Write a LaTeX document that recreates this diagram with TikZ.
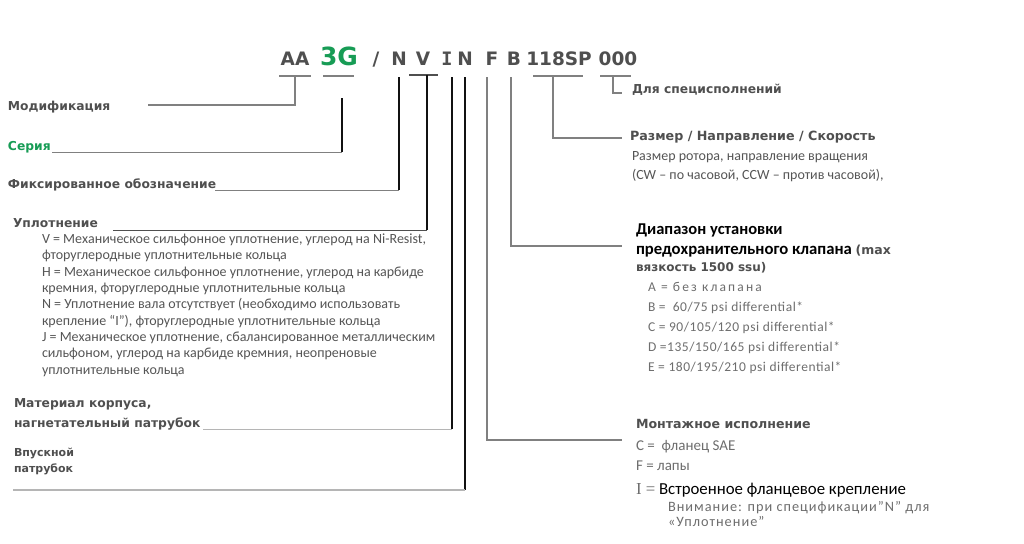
\documentclass[tikz,border=0pt]{standalone}
\usepackage{fontspec}
\usetikzlibrary{calc}
\setmainfont{Carlito}
\newfontfamily\hd{DejaVu Sans}
\newfontfamily\hdm{DejaVu Sans Mono}
\newfontfamily\cam{Liberation Serif}
\definecolor{hdgrey}{HTML}{4F4F4F}
\definecolor{txgrey}{HTML}{555555}
\definecolor{ltgrey}{HTML}{6E6E6E}
\definecolor{grn}{HTML}{179C55}
\definecolor{lnblack}{HTML}{111111}
\definecolor{lngrey}{HTML}{808080}
\definecolor{lnlight}{HTML}{B5B5B5}
\begin{document}
\begin{tikzpicture}[x=1pt,y=-1pt,
  every node/.style={inner sep=0pt,outer sep=0pt},
  code/.style={font=\hd\bfseries\fontsize{18.5}{19}\selectfont,text=hdgrey,anchor=base},
  head/.style={font=\hd\bfseries\fontsize{12.3}{12}\selectfont,text=hdgrey,anchor=base west},
  body/.style={font=\fontsize{14}{16.3}\selectfont,text=txgrey,anchor=north west,align=left},
  bk/.style={draw=lnblack,line width=1.3pt},
  gy/.style={draw=lngrey,line width=1.5pt},
  lt/.style={draw=lnlight,line width=1.3pt},
  lt2/.style={draw=lnlight,line width=2pt}]
\useasboundingbox[fill=white] (0,0) rectangle (1024,543);

% ---- code line ----
\node[code] (cAA) at (295,66) {AA};
\node[code,text=grn,font=\hd\bfseries\fontsize{25}{26}\selectfont] (c3G) at (339,66) {3G};
\node[code] (cSl) at (376,66) {/};
\node[code] (cN1) at (399,66) {N};
\node[code] (cV) at (423,66) {V};
\node[code,font=\hdm\bfseries\fontsize{18.5}{19}\selectfont] (cI) at (447,66) {I};
\node[code] (cN2) at (465,66) {N};
\node[code] (cF) at (492,66) {F};
\node[code] (cB) at (514,66) {B};
\node[code] (cSP) at (559,66) {118SP};
\node[code] (c000) at (618,66) {000};

% ---- left headings ----
\node[head] (mod) at (8,110) {Модификация};
\node[head,text=grn] (ser) at (8,150) {Серия};
\node[head] (fix) at (8,188) {Фиксированное обозначение};
\node[head] (upl) at (13,227) {Уплотнение};
\node[body] (uplT) at (42,234) {V = Механическое сильфонное уплотнение, углерод на Ni-Resist,\\
фторуглеродные уплотнительные кольца\\
H = Механическое сильфонное уплотнение, углерод на карбиде\\
кремния, фторуглеродные уплотнительные кольца\\
N = Уплотнение вала отсутствует (необходимо использовать\\
крепление “I”), фторуглеродные уплотнительные кольца\\
J = Механическое уплотнение, сбалансированное металлическим\\
сильфоном, углерод на карбиде кремния, неопреновые\\
уплотнительные кольца};
\node[head] (mat1) at (14,407) {Материал корпуса,};
\node[head] (mat) at (14,427) {нагнетательный патрубок};
\node[head,font=\hd\bfseries\fontsize{11}{11}\selectfont] (vp1) at (14,456) {Впускной};
\node[head,font=\hd\bfseries\fontsize{11}{11}\selectfont] (vp) at (14,472) {патрубок};

% ---- right headings ----
\node[head] (spec) at (632,93) {Для специсполнений};
\node[head,font=\hd\bfseries\fontsize{12.7}{12.7}\selectfont] (size) at (630,140) {Размер / Направление / Скорость};
\node[body,font=\fontsize{14}{18.5}\selectfont] (sizeT) at (632,152) {Размер ротора, направление вращения\\(CW – по часовой, CCW – против часовой),};
\node[anchor=base west,font=\bfseries\fontsize{16.5}{17}\selectfont,text=black] (dia1) at (636,234) {Диапазон установки};
\node[anchor=base west,font=\bfseries\fontsize{16.7}{17}\selectfont,text=black] (dia) at (636,254) {предохранительного клапана \textcolor{hdgrey}{\hd\fontsize{12.5}{12.5}\selectfont(max}};
\node[head,font=\hd\bfseries\fontsize{12}{12}\selectfont] (dia3) at (636,271) {вязкость 1500 ssu)};
\node[body,font=\addfontfeatures{LetterSpace=4}\fontsize{13.5}{20}\selectfont,text=ltgrey] (diaT) at (648,282) {\addfontfeatures{LetterSpace=16}A = без клапана\\
B =\ \ 60/75 psi differential*\\
C\ = 90/105/120 psi differential*\\
D =135/150/165 psi differential*\\
E = 180/195/210 psi differential*};
\node[head,font=\hd\bfseries\fontsize{12.6}{12}\selectfont] (mont) at (636,428) {Монтажное исполнение};
\node[anchor=base west,font=\fontsize{15}{15}\selectfont,text=ltgrey] (mC) at (636,450) {C =\ \ фланец SAE};
\node[anchor=base west,font=\fontsize{15}{15}\selectfont,text=ltgrey] (mF) at (636,470) {F = лапы};
\node[anchor=base west,font=\fontsize{16.8}{16.8}\selectfont,text=black] (mI) at (636,494) {\textcolor{ltgrey}{\cam I =} Встроенное фланцевое крепление};
\node[body,font=\addfontfeatures{LetterSpace=7}\fontsize{14.3}{15.5}\selectfont,text=ltgrey] (note) at (668,501) {Внимание: при спецификации"N" для\\«Уплотнение"};

% ---- coordinates ----
\coordinate (uAAa) at (279,76); \coordinate (uAAb) at (311,76);
\coordinate (u3Ga) at (323,76); \coordinate (u3Gb) at (354,76);
\coordinate (uVa) at (409,75);  \coordinate (uVb) at (438,75);
\coordinate (uSPa) at (533,76); \coordinate (uSPb) at (583,76);
\coordinate (u0a) at (600,76);  \coordinate (u0b) at (631,76);
\coordinate (eMod) at (148,105);
\coordinate (eSer) at (52,152);
\coordinate (eFix) at (215,190);
\coordinate (eUpl) at (113,230);
\coordinate (eMat) at (203,429);
\coordinate (eVp) at (13,490);
\coordinate (eMont) at (622,440);
\coordinate (eDia) at (622,246);
\coordinate (eSize) at (622,138);
\coordinate (eSpec) at (622,93);

% ---- underlines ----
\draw[gy,line width=1.2pt] (uAAa) -- (uAAb);
\draw[gy,line width=1.2pt] (u3Ga) -- (u3Gb);
\draw[gy,line width=1.2pt,draw=hdgrey] (uVa) -- (uVb);
\draw[gy,line width=1.2pt] (uSPa) -- (uSPb);
\draw[gy,line width=1.2pt] (u0a) -- (u0b);

% ---- connectors ----
\draw[gy,line width=1.2pt] ($(uAAa)!0.5!(uAAb)$) |- (eMod);
\draw[bk] (342,98) coordinate (t3G) -- (342,152) coordinate (b3G);
\draw[gy,line width=1pt] (b3G) -- (eSer);
\draw[bk] (399,77) coordinate (tN1) -- (tN1 |- eFix) coordinate (bN1);
\draw[gy,line width=1pt] (bN1) -- (eFix);
\draw[bk] (427,75) coordinate (tV) -- (tV |- eUpl) coordinate (bV);
\draw[gy,line width=1pt,draw=hdgrey] (bV) -- (eUpl);
\draw[bk] (452,77) coordinate (tI) -- (tI |- eMat) coordinate (bI);
\draw[lt,line width=1pt] (bI) -- (eMat);
\draw[bk] (465,77) coordinate (tN2) -- (tN2 |- eVp) coordinate (bN2);
\draw[lt2] (bN2) -- (eVp);
\draw[gy] (487,77) coordinate (tF) |- (eMont);
\draw[gy] (511,77) coordinate (tB) |- (eDia);
\draw[gy] (553,76) coordinate (tSP) |- (eSize);
\draw[gy] (613,76) coordinate (t0) |- (eSpec);
\end{tikzpicture}
\end{document}
